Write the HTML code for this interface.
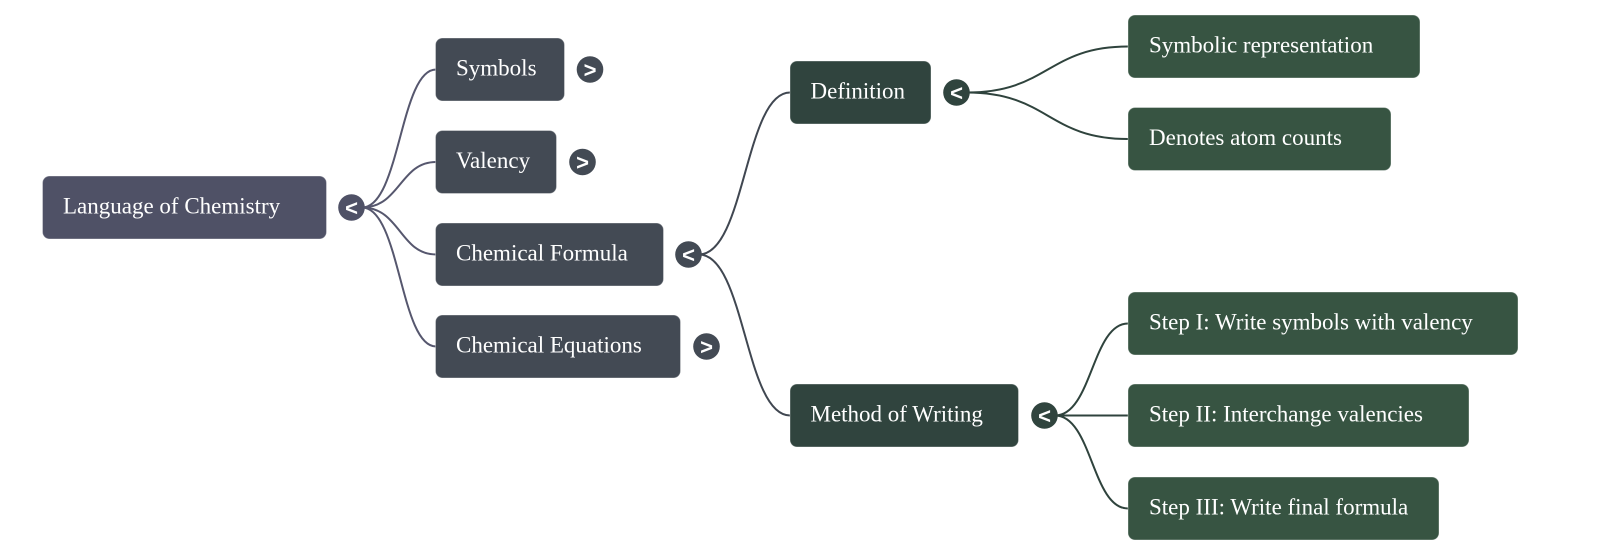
<!DOCTYPE html>
<html>
<head>
<meta charset="utf-8">
<style>
  html, body { margin: 0; padding: 0; background: #ffffff; }
  body { width: 1600px; height: 555px; overflow: hidden; }
  svg { display: block; }
  .lbl { font-family: "Liberation Serif", "DejaVu Serif", serif; font-size: 23px; fill: #ffffff; }
  .chev { font-family: "Liberation Sans", "DejaVu Sans", sans-serif; font-size: 22px; font-weight: bold; fill: #ffffff; }
</style>
</head>
<body>
<svg width="1600" height="555" viewBox="0 0 1600 555" xmlns="http://www.w3.org/2000/svg">
  <!-- connectors -->
  <g fill="none" stroke-width="2">
    <g stroke="#56576e">
      <path d="M362 207.5 C400 207.5 400 69.5 436 69.5"/>
      <path d="M362 207.5 C400 207.5 400 162 436 162"/>
      <path d="M362 207.5 C400 207.5 400 254.5 436 254.5"/>
      <path d="M362 207.5 C400 207.5 400 346.5 436 346.5"/>
    </g>
    <g stroke="#404751">
      <path d="M699 254.5 C745 254.5 745 92.5 790 92.5"/>
      <path d="M699 254.5 C745 254.5 745 415.5 790 415.5"/>
    </g>
    <g stroke="#2f433d">
      <path d="M967 92.5 C1048 92.5 1048 46.5 1128 46.5"/>
      <path d="M967 92.5 C1048 92.5 1048 139 1128 139"/>
      <path d="M1055 415.5 C1092 415.5 1092 323.5 1128 323.5"/>
      <path d="M1055 415.5 L1128 415.5"/>
      <path d="M1055 415.5 C1092 415.5 1092 508.5 1128 508.5"/>
    </g>
  </g>

  <!-- root -->
  <rect x="42.5" y="176" width="284" height="63" rx="7" fill="#4f5166" stroke="#ffffff" stroke-opacity="0.35"/>
  <text class="lbl" x="63" y="213.5">Language of Chemistry</text>
  <circle cx="351.5" cy="207.5" r="13.3" fill="#4f5166"/>
  <text class="chev" x="351.5" y="215.5" text-anchor="middle">&lt;</text>

  <!-- level 1 -->
  <g>
    <rect x="435.5" y="38" width="129" height="63" rx="7" fill="#434a54" stroke="#ffffff" stroke-opacity="0.35"/>
    <text class="lbl" x="456" y="75.5">Symbols</text>
    <circle cx="590" cy="69.5" r="13.3" fill="#434a54"/>
    <text class="chev" x="590" y="77.5" text-anchor="middle">&gt;</text>

    <rect x="435.5" y="130.5" width="121" height="63" rx="7" fill="#434a54" stroke="#ffffff" stroke-opacity="0.35"/>
    <text class="lbl" x="456" y="168">Valency</text>
    <circle cx="582.5" cy="162" r="13.3" fill="#434a54"/>
    <text class="chev" x="582.5" y="170" text-anchor="middle">&gt;</text>

    <rect x="435.5" y="223" width="228" height="63" rx="7" fill="#434a54" stroke="#ffffff" stroke-opacity="0.35"/>
    <text class="lbl" x="456" y="260.5">Chemical Formula</text>
    <circle cx="688.5" cy="254.5" r="13.3" fill="#434a54"/>
    <text class="chev" x="688.5" y="262.5" text-anchor="middle">&lt;</text>

    <rect x="435.5" y="315" width="245" height="63" rx="7" fill="#434a54" stroke="#ffffff" stroke-opacity="0.35"/>
    <text class="lbl" x="456" y="352.5">Chemical Equations</text>
    <circle cx="706.5" cy="346.5" r="13.3" fill="#434a54"/>
    <text class="chev" x="706.5" y="354.5" text-anchor="middle">&gt;</text>
  </g>

  <!-- level 2 -->
  <g>
    <rect x="790" y="61" width="141" height="63" rx="7" fill="#30443e" stroke="#ffffff" stroke-opacity="0.35"/>
    <text class="lbl" x="810.5" y="98.5">Definition</text>
    <circle cx="956.5" cy="92.5" r="13.3" fill="#30443e"/>
    <text class="chev" x="956.5" y="100.5" text-anchor="middle">&lt;</text>

    <rect x="790" y="384" width="228.5" height="63" rx="7" fill="#30443e" stroke="#ffffff" stroke-opacity="0.35"/>
    <text class="lbl" x="810.5" y="421.5">Method of Writing</text>
    <circle cx="1044.5" cy="415.5" r="13.3" fill="#30443e"/>
    <text class="chev" x="1044.5" y="423.5" text-anchor="middle">&lt;</text>
  </g>

  <!-- leaves -->
  <g>
    <rect x="1128" y="15" width="292" height="63" rx="7" fill="#375442" stroke="#ffffff" stroke-opacity="0.35"/>
    <text class="lbl" x="1149" y="52.5">Symbolic representation</text>

    <rect x="1128" y="107.5" width="263" height="63" rx="7" fill="#375442" stroke="#ffffff" stroke-opacity="0.35"/>
    <text class="lbl" x="1149" y="145">Denotes atom counts</text>

    <rect x="1128" y="292" width="390" height="63" rx="7" fill="#375442" stroke="#ffffff" stroke-opacity="0.35"/>
    <text class="lbl" x="1149" y="329.5">Step I: Write symbols with valency</text>

    <rect x="1128" y="384" width="341" height="63" rx="7" fill="#375442" stroke="#ffffff" stroke-opacity="0.35"/>
    <text class="lbl" x="1149" y="421.5">Step II: Interchange valencies</text>

    <rect x="1128" y="477" width="311" height="63" rx="7" fill="#375442" stroke="#ffffff" stroke-opacity="0.35"/>
    <text class="lbl" x="1149" y="514.5">Step III: Write final formula</text>
  </g>
</svg>
</body>
</html>
